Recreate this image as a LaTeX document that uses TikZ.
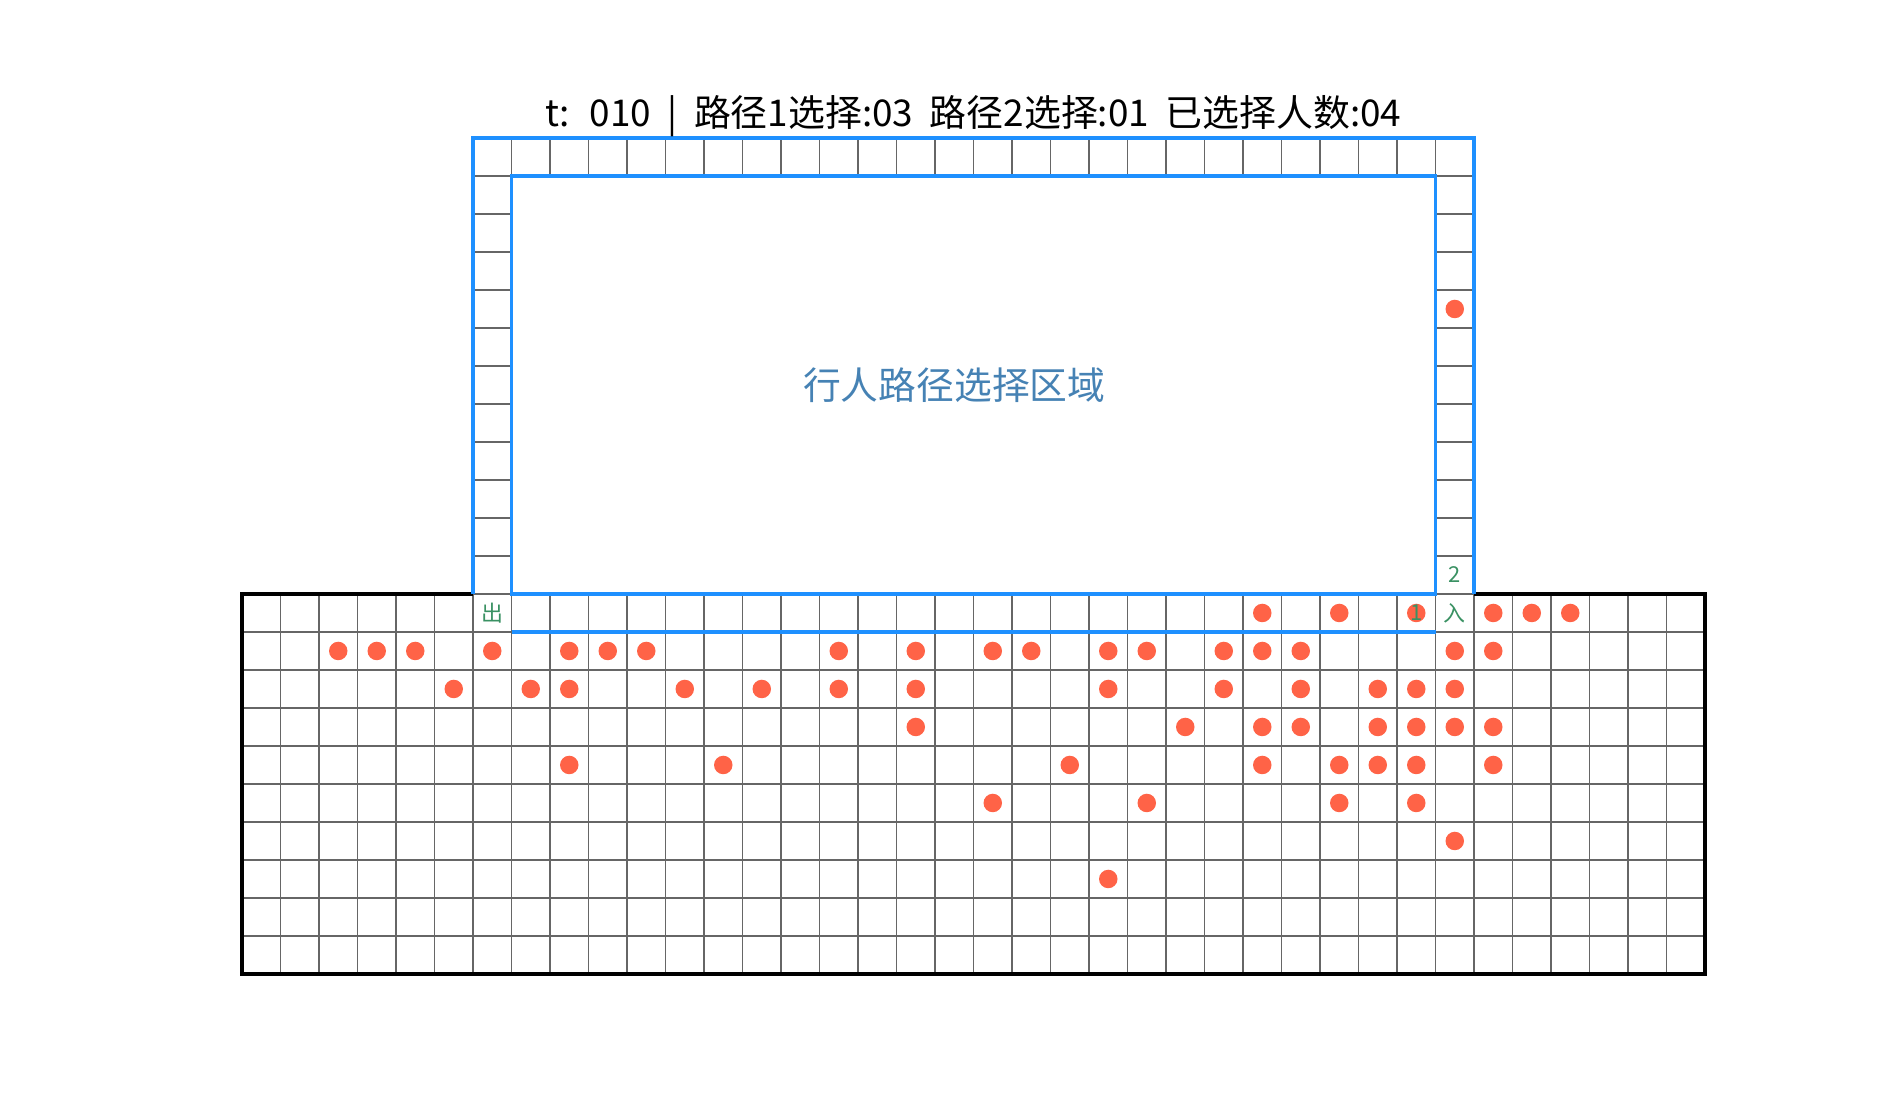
\documentclass[tikz,border=0pt]{standalone}
\usepackage{fontspec}
\setmainfont{Noto Sans CJK SC}
\newfontfamily\titlefont[WordSpace=2.0]{Noto Sans CJK SC}
\usetikzlibrary{positioning}
\definecolor{wallblue}{HTML}{1E90FF}
\definecolor{walkerred}{HTML}{FF6347}
\definecolor{gridgray}{HTML}{666666}
\definecolor{markgreen}{HTML}{3A9163}
\definecolor{zoneblue}{HTML}{4682B4}
\tikzset{
  cellline/.style={draw=gridgray, line width=0.7pt},
  wall/.style={draw=wallblue, line width=2.1pt},
  border/.style={draw=black, line width=2pt},
  walker/.style={circle, fill=walkerred, inner sep=0pt, minimum size=0.37cm},
  tag/.style={font=\fontsize{12.5}{13}\selectfont, text=markgreen, inner sep=0pt},
  zonelbl/.style={font=\fontsize{21.5}{24}\selectfont, text=zoneblue, inner sep=0pt},
  headline/.style={font=\titlefont\fontsize{21}{24}\selectfont, inner sep=0pt}
}

\begin{document}
\begin{tikzpicture}[x=0.77cm, y=-0.76cm]
  \useasboundingbox (-4.84cm,11.88cm) rectangle (33.16cm,-10.12cm);
  % hall grid
  \foreach \i in {0,...,38} \draw[cellline] (\i,0) -- (\i,10);
  \foreach \j in {0,...,10} \draw[cellline] (0,\j) -- (38,\j);
  % corridor cells
  \foreach \i in {6,...,32} \draw[cellline] (\i,-12) -- (\i,-11);
  \draw[cellline] (6,-12) -- (32,-12);
  \draw[cellline] (6,-11) -- (32,-11);
  \foreach \j in {-12,...,0} {
    \draw[cellline] (6,\j) -- (7,\j);
    \draw[cellline] (31,\j) -- (32,\j);
  }
  \foreach \i in {6,7,31,32} \draw[cellline] (\i,-12) -- (\i,0);
  % walls
  \draw[border] (6,0) -- (0,0) -- (0,10) -- (38,10) -- (38,0) -- (32,0);
  \draw[wall] (6,0) -- (6,-12) -- (32,-12) -- (32,0);
  \draw[wall] (7,-11) rectangle (31,0);
  \draw[wall] (7,1) -- (31,1);
  % pedestrians
  \foreach \c/\r in {26/0,28/0,30/0,32/0,33/0,34/0,
      2/1,3/1,4/1,6/1,8/1,9/1,10/1,15/1,17/1,19/1,20/1,22/1,23/1,25/1,26/1,27/1,31/1,32/1,
      5/2,7/2,8/2,11/2,13/2,15/2,17/2,22/2,25/2,27/2,29/2,30/2,31/2,
      17/3,24/3,26/3,27/3,29/3,30/3,31/3,32/3,
      8/4,12/4,21/4,26/4,28/4,29/4,30/4,32/4,
      19/5,23/5,28/5,30/5,
      31/6,22/7,31/-8}
    \node[walker] (p-\c-\r) at (\c+0.5,\r+0.5) {};
  % markers
  \node[tag] (exit) at (6.5,0.5) {出};
  \node[tag] (entry) at (31.5,0.5) {入};
  \node[tag] (route1) at (30.5,0.5) {1};
  \node[tag] (route2) at (31.5,-0.5) {2};
  \node[zonelbl] (zone) at (18.5,-5.5) {行人路径选择区域};
  \node[headline, anchor=base] (status) at (19,-12.3) {t: 010 | 路径1选择:03 路径2选择:01 已选择人数:04};
\end{tikzpicture}
\end{document}
